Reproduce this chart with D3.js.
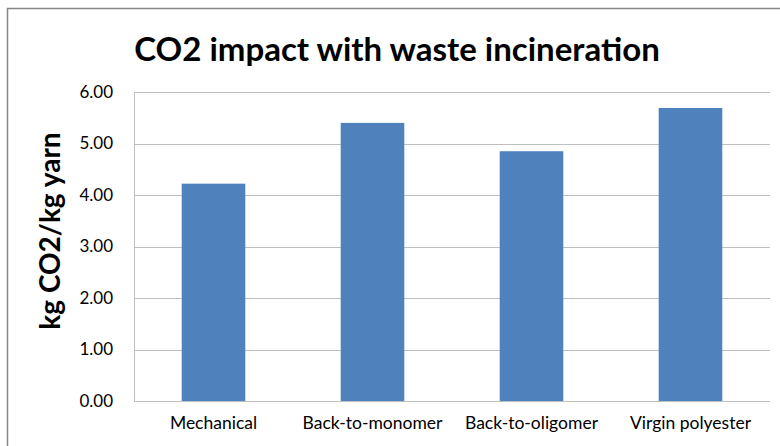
<!DOCTYPE html>
<html>
<head>
<script src="https://cdn.jsdelivr.net/npm/d3@7"></script>
<style>
body { margin: 0; background: #fff; }
text { font-family: Lato, "Open Sans", sans-serif; fill: #000; }
.grid line { stroke: #bfbfbf; stroke-width: 1; }
.axis path, .axis line { stroke: #a0a0a0; }
</style>
</head>
<body>
<div id="chart"></div>
<script>
var categories = ["Mechanical", "Back-to-monomer", "Back-to-oligomer", "Virgin polyester"];
var values = [4.22, 5.40, 4.85, 5.69];
var yTicks = [0, 1, 2, 3, 4, 5, 6];

var w = 780, h = 446;
var margin = {left: 134, right: 10, top: 92, bottom: 45};

var svg = d3.select("#chart").append("svg")
    .attr("width", w)
    .attr("height", h);

// chart frame
svg.append("rect")
    .attr("x", 7.5).attr("y", 8.5)
    .attr("width", w).attr("height", h)
    .attr("fill", "none")
    .attr("stroke", "#868686")
    .attr("stroke-width", 1.5);

var x = d3.scaleBand()
    .domain(categories)
    .range([margin.left, w - margin.right])
    .paddingInner(0.6)
    .paddingOuter(0.3);

var y = d3.scaleLinear()
    .domain([0, 6])
    .range([h - margin.bottom, margin.top]);

svg.append("g")
    .attr("class", "grid")
  .selectAll("line")
  .data(yTicks)
  .enter().append("line")
    .attr("x1", margin.left)
    .attr("x2", w - margin.right)
    .attr("y1", function(d) { return Math.round(y(d)) + 0.5; })
    .attr("y2", function(d) { return Math.round(y(d)) + 0.5; });

svg.append("line")
    .attr("x1", margin.left + 0.5).attr("x2", margin.left + 0.5)
    .attr("y1", y(6)).attr("y2", y(0))
    .attr("stroke", "#bfbfbf");

svg.selectAll("rect.bar")
    .data(values)
  .enter().append("rect")
    .attr("class", "bar")
    .attr("x", function(d, i) { return x(categories[i]); })
    .attr("width", x.bandwidth())
    .attr("y", function(d) { return y(d); })
    .attr("height", function(d) { return y(0) - y(d); })
    .attr("fill", "#4f81bd");

var yAxis = svg.append("g")
    .attr("class", "axis")
    .attr("transform", "translate(" + margin.left + ",0)")
    .call(d3.axisLeft(y).tickValues(yTicks).tickFormat(d3.format(".2f")).tickSize(0).tickPadding(21));
yAxis.select(".domain").remove();
yAxis.selectAll("text")
    .style("font-size", "17px")
    .style("font-family", "Lato, sans-serif");

var xAxis = svg.append("g")
    .attr("class", "axis")
    .attr("transform", "translate(0," + y(0) + ")")
    .call(d3.axisBottom(x).tickSize(0).tickPadding(16));
xAxis.select(".domain").remove();
xAxis.selectAll("text")
    .style("font-size", "17.5px")
    .style("font-family", "Lato, sans-serif");

svg.append("text")
    .attr("x", 397)
    .attr("y", 61)
    .attr("text-anchor", "middle")
    .style("font-size", "33px")
    .style("font-weight", "bold")
    .text("CO2 impact with waste incineration");

svg.append("text")
    .attr("transform", "translate(60,231) rotate(-90)")
    .attr("text-anchor", "middle")
    .style("font-size", "28px")
    .style("font-weight", "bold")
    .text("kg CO2/kg yarn");
</script>
</body>
</html>
